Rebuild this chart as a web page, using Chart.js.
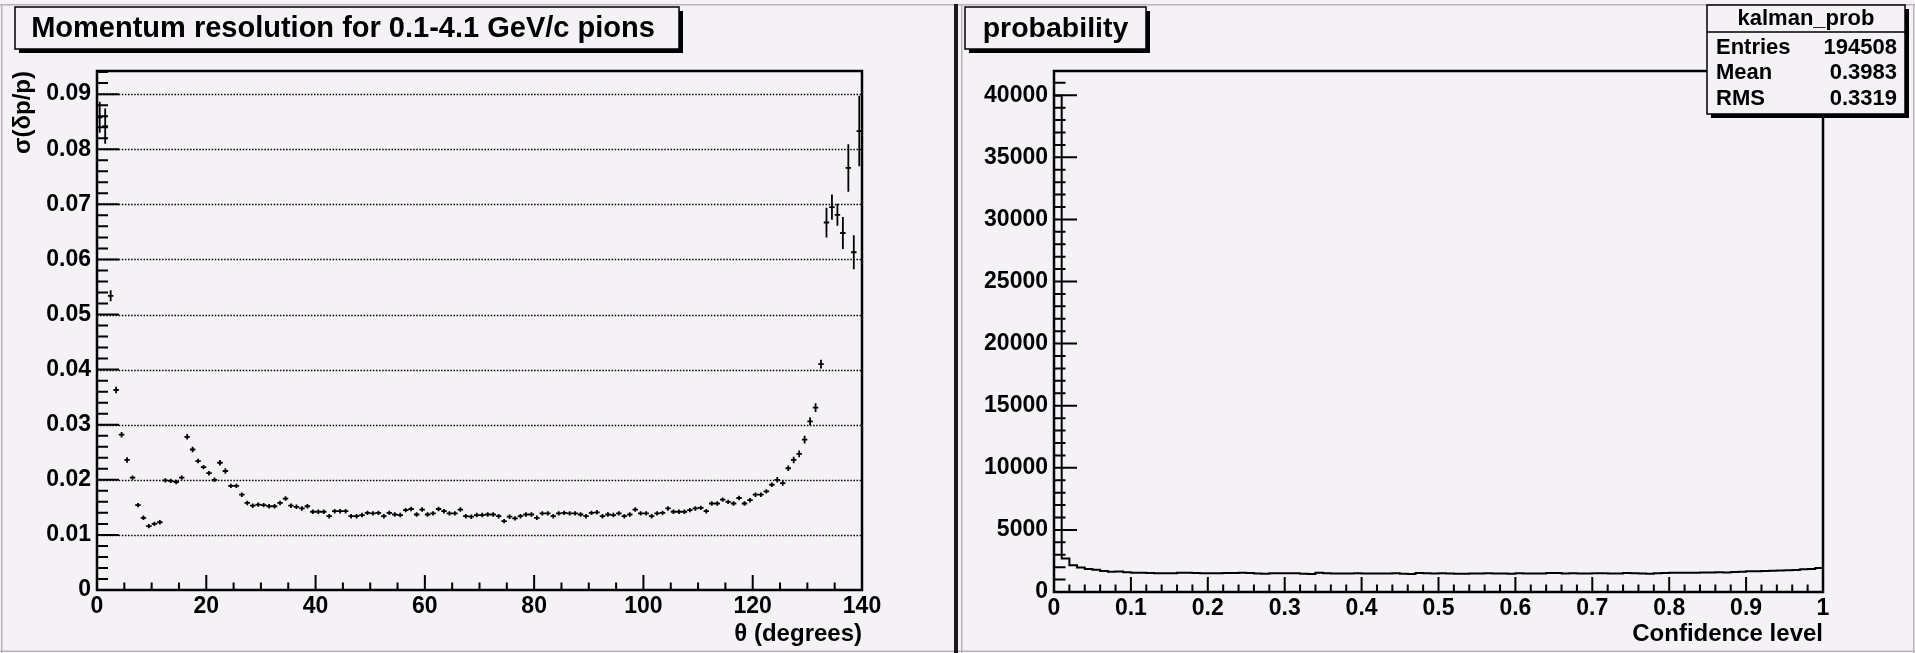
<!DOCTYPE html>
<html>
<head>
<meta charset="utf-8">
<title>Momentum resolution / probability</title>
<script src="https://cdn.jsdelivr.net/npm/chart.js@4.4.1/dist/chart.umd.min.js"></script>
<style>
  html, body { margin: 0; padding: 0; background: #f5f2f5; overflow: hidden; }
  #page { position: relative; width: 1915px; height: 653px; }
  #page canvas { position: absolute; top: 0; }
  #resCanvas { left: 0; }
  #probCanvas { left: 958px; }
</style>
</head>
<body>
<div id="page">
  <canvas id="resCanvas" width="958" height="653"></canvas>
  <canvas id="probCanvas" width="957" height="653"></canvas>
</div>
<script>
// ---- left pad: sigma(dp/p) per 1 degree theta bin, 0..140 deg ----
const thetaRange = [0, 140];
const thetaBinWidth = 1;
const sigmaValues = [
  0.0858, 0.0842, 0.0534, 0.0363, 0.0282, 0.0236, 0.0204, 0.0154, 0.0131, 0.0116,
  0.0120, 0.0123, 0.0199, 0.0198, 0.0196, 0.0204, 0.0278, 0.0255, 0.0234, 0.0223,
  0.0212, 0.0200, 0.0231, 0.0216, 0.0189, 0.0189, 0.0173, 0.0158, 0.0153, 0.0155,
  0.0154, 0.0152, 0.0152, 0.0158, 0.0166, 0.0153, 0.0151, 0.0148, 0.0152, 0.0142,
  0.0142, 0.0142, 0.0134, 0.0143, 0.0143, 0.0143, 0.0134, 0.0134, 0.0136, 0.0140,
  0.0139, 0.0140, 0.0134, 0.0140, 0.0137, 0.0136, 0.0145, 0.0147, 0.0137, 0.0146,
  0.0137, 0.0139, 0.0147, 0.0143, 0.0139, 0.0139, 0.0146, 0.0134, 0.0133, 0.0136,
  0.0136, 0.0137, 0.0137, 0.0134, 0.0125, 0.0133, 0.0130, 0.0134, 0.0137, 0.0137,
  0.0131, 0.0139, 0.0139, 0.0134, 0.0139, 0.0140, 0.0139, 0.0139, 0.0137, 0.0134,
  0.0140, 0.0141, 0.0134, 0.0137, 0.0136, 0.0139, 0.0134, 0.0137, 0.0146, 0.0139,
  0.0139, 0.0134, 0.0139, 0.0140, 0.0148, 0.0142, 0.0142, 0.0142, 0.0145, 0.0148,
  0.0149, 0.0143, 0.0157, 0.0157, 0.0164, 0.0160, 0.0157, 0.0167, 0.0157, 0.0163,
  0.0173, 0.0173, 0.0179, 0.0191, 0.0200, 0.0194, 0.0221, 0.0236, 0.0247, 0.0273,
  0.0306, 0.0331, 0.0410, 0.0667, 0.0695, 0.0681, 0.0648, 0.0766, 0.0613, 0.0833
];
const sigmaErrors = [
  0.0028, 0.0032, 0.0010, 0.0006, 0.0005, 0.0005, 0.0004, 0.0004, 0.0004, 0.0004,
  0.0004, 0.0004, 0.0004, 0.0004, 0.0004, 0.0004, 0.0005, 0.0005, 0.0004, 0.0004,
  0.0004, 0.0004, 0.0005, 0.0005, 0.0004, 0.0004, 0.0004, 0.0004, 0.0004, 0.0004,
  0.0004, 0.0004, 0.0004, 0.0004, 0.0004, 0.0004, 0.0004, 0.0004, 0.0004, 0.0004,
  0.0004, 0.0004, 0.0004, 0.0004, 0.0004, 0.0004, 0.0004, 0.0004, 0.0004, 0.0004,
  0.0004, 0.0004, 0.0004, 0.0004, 0.0004, 0.0004, 0.0004, 0.0004, 0.0004, 0.0004,
  0.0004, 0.0004, 0.0004, 0.0004, 0.0004, 0.0004, 0.0004, 0.0004, 0.0004, 0.0004,
  0.0004, 0.0004, 0.0004, 0.0004, 0.0004, 0.0004, 0.0004, 0.0004, 0.0004, 0.0004,
  0.0004, 0.0004, 0.0004, 0.0004, 0.0004, 0.0004, 0.0004, 0.0004, 0.0004, 0.0004,
  0.0004, 0.0004, 0.0004, 0.0004, 0.0004, 0.0004, 0.0004, 0.0004, 0.0004, 0.0004,
  0.0004, 0.0004, 0.0004, 0.0004, 0.0004, 0.0004, 0.0004, 0.0004, 0.0004, 0.0004,
  0.0004, 0.0004, 0.0004, 0.0004, 0.0004, 0.0004, 0.0004, 0.0004, 0.0004, 0.0004,
  0.0004, 0.0004, 0.0004, 0.0004, 0.0005, 0.0005, 0.0005, 0.0006, 0.0006, 0.0007,
  0.0007, 0.0008, 0.0008, 0.0027, 0.0023, 0.0020, 0.0029, 0.0043, 0.0031, 0.0064
];
const resXTicks = [0, 20, 40, 60, 80, 100, 120, 140];
const resYTicks = [0, 0.01, 0.02, 0.03, 0.04, 0.05, 0.06, 0.07, 0.08, 0.09];

// ---- right pad: kalman_prob histogram, 100 bins on [0,1] ----
const probRange = [0, 1];
const probCounts = [
  39950, 2700, 2160, 1970, 1860, 1800, 1700, 1640, 1650, 1600,
  1560, 1550, 1530, 1500, 1500, 1510, 1560, 1560, 1530, 1510,
  1510, 1500, 1520, 1530, 1560, 1530, 1490, 1470, 1500, 1510,
  1510, 1500, 1460, 1440, 1550, 1500, 1490, 1480, 1490, 1500,
  1490, 1480, 1490, 1480, 1500, 1470, 1440, 1520, 1510, 1480,
  1500, 1480, 1470, 1470, 1490, 1490, 1500, 1490, 1480, 1470,
  1500, 1490, 1480, 1480, 1530, 1520, 1490, 1500, 1490, 1480,
  1500, 1510, 1490, 1480, 1520, 1510, 1480, 1470, 1500, 1530,
  1540, 1550, 1560, 1550, 1580, 1570, 1590, 1580, 1620, 1640,
  1670, 1680, 1700, 1710, 1740, 1750, 1780, 1840, 1860, 1940
];
const probXTicks = [0, 0.1, 0.2, 0.3, 0.4, 0.5, 0.6, 0.7, 0.8, 0.9, 1];
const probYTicks = [0, 5000, 10000, 15000, 20000, 25000, 30000, 35000, 40000];
const statsTitle = 'kalman_prob';
const statsLabels = ['Entries', 'Mean', 'RMS'];
const statsValues = ['194508', '0.3983', '0.3319'];

const BG = '#f5f2f5';
const FONT = '"Liberation Sans", Arial, Helvetica, sans-serif';

function drawTicks(c, scale, area, step, len, horizontal) {
  const n = Math.floor((scale.max - scale.min) / step + 1e-6);
  for (let k = 0; k <= n; k++) {
    const p = scale.getPixelForValue(scale.min + k * step);
    if (horizontal) { c.moveTo(p, area.bottom); c.lineTo(p, area.bottom - len); }
    else { c.moveTo(area.left, p); c.lineTo(area.left + len, p); }
  }
}

function drawShadowBox(c, x0, y0, x1, y1) {
  const sh = 4;
  c.fillStyle = '#000';
  c.fillRect(x0 + sh, y1, x1 - x0, sh);
  c.fillRect(x1, y0 + sh, sh, y1 - y0);
  c.fillStyle = BG;
  c.fillRect(x0, y0, x1 - x0, y1 - y0);
  c.strokeStyle = '#000';
  c.lineWidth = 1.5;
  c.strokeRect(x0, y0, x1 - x0, y1 - y0);
}

// ROOT-like pad: background, dotted y grid, frame, inward ticks, extras
function rootPad(cfg) {
  return {
    id: 'rootPad',
    beforeDraw(chart) {
      const c = chart.ctx;
      c.save();
      c.fillStyle = BG;
      c.fillRect(0, 0, chart.width, chart.height);
      c.restore();
    },
    beforeDatasetsDraw(chart) {
      if (!cfg.grid) return;
      const {ctx: c, chartArea: a, scales: {y}} = chart;
      c.save();
      c.strokeStyle = '#000';
      c.lineWidth = 1.4;
      c.setLineDash([1.5, 1.6]);
      c.beginPath();
      y.ticks.forEach(t => {
        if (t.value <= y.min) return;
        const p = Math.round(y.getPixelForValue(t.value)) + 0.5;
        c.moveTo(a.left, p); c.lineTo(a.right, p);
      });
      c.stroke();
      c.restore();
    },
    afterDatasetsDraw(chart) {
      const {ctx: c, chartArea: a, scales: {x, y}} = chart;
      c.save();
      c.strokeStyle = '#000';
      c.lineWidth = 2;
      c.beginPath();
      drawTicks(c, x, a, cfg.xMajor, cfg.xMajorLen, true);
      drawTicks(c, x, a, cfg.xMinor, cfg.xMajorLen / 2, true);
      drawTicks(c, y, a, cfg.yMajor, cfg.yMajorLen, false);
      drawTicks(c, y, a, cfg.yMinor, cfg.yMajorLen / 2, false);
      c.stroke();
      c.lineWidth = 2.5;
      c.strokeRect(a.left, a.top, a.right - a.left, a.bottom - a.top);
      c.restore();
    },
    afterDraw(chart) {
      const c = chart.ctx;
      c.save();
      cfg.decorate(c, chart);
      c.restore();
    }
  };
}

// vertical error bars + bin-width horizontal bars
const errorBars = {
  id: 'errorBars',
  afterDatasetsDraw(chart) {
    const {ctx: c, scales: {x, y}} = chart;
    const meta = chart.getDatasetMeta(0);
    c.save();
    c.strokeStyle = '#000';
    c.lineWidth = 1.8;
    c.beginPath();
    meta.data.forEach((pt, i) => {
      const xc = thetaRange[0] + (i + 0.5) * thetaBinWidth;
      const xl = x.getPixelForValue(xc - thetaBinWidth / 2);
      const xr = x.getPixelForValue(xc + thetaBinWidth / 2);
      const yt = y.getPixelForValue(sigmaValues[i] + sigmaErrors[i]);
      const yb = y.getPixelForValue(sigmaValues[i] - sigmaErrors[i]);
      c.moveTo(xl, pt.y); c.lineTo(xr, pt.y);
      c.moveTo(pt.x, yt); c.lineTo(pt.x, yb);
    });
    c.stroke();
    c.restore();
  }
};

function tickFont(size) { return {family: FONT, size: size, weight: 'bold'}; }

function baseScales(o) {
  return {
    x: {
      type: 'linear', min: o.xMin, max: o.xMax,
      grid: {display: false, drawTicks: false}, border: {display: false},
      ticks: {autoSkip: false, maxRotation: 0, minRotation: 0,
              padding: 3, color: '#000', font: tickFont(23), callback: o.xFmt},
      afterBuildTicks: s => { s.ticks = o.xTicks.map(v => ({value: v})); },
      title: {display: true, text: o.xTitle, align: 'end', color: '#000', font: tickFont(24),
              padding: {top: 0, bottom: 4}},
      afterFit: s => { s.height = o.bottomH; }
    },
    y: {
      type: 'linear', min: o.yMin, max: o.yMax,
      grid: {display: false, drawTicks: false}, border: {display: false},
      ticks: {autoSkip: false, padding: 6, color: '#000', font: tickFont(23), callback: o.yFmt},
      afterBuildTicks: s => { s.ticks = o.yTicks.map(v => ({value: v})); },
      title: {display: !!o.yTitle, text: o.yTitle || '', align: 'end', color: '#000', font: tickFont(24),
              padding: {top: 9, bottom: 0}},
      afterFit: s => { s.width = o.leftW; }
    }
  };
}

// ---------- left chart ----------
new Chart(document.getElementById('resCanvas'), {
  type: 'scatter',
  data: {
    datasets: [{
      data: sigmaValues.map((v, i) => ({x: thetaRange[0] + (i + 0.5) * thetaBinWidth, y: v})),
      pointRadius: 0,
      showLine: false
    }]
  },
  options: {
    responsive: false, animation: false, events: [],
    layout: {padding: {top: 71, right: 96, bottom: 0, left: 0}},
    plugins: {legend: {display: false}, tooltip: {enabled: false}},
    scales: baseScales({
      xMin: thetaRange[0], xMax: thetaRange[1], xTicks: resXTicks, xTitle: 'θ (degrees)',
      xFmt: v => String(v),
      yMin: 0, yMax: 0.0942, yTicks: resYTicks, yTitle: 'σ(δp/p)',
      yFmt: v => (v === 0 ? '0' : v.toFixed(2)),
      bottomH: 63, leftW: 97
    })
  },
  plugins: [rootPad({
    grid: true, xMajor: 20, xMinor: 5, xMajorLen: 15, yMajor: 0.01, yMinor: 0.002, yMajorLen: 22,
    decorate(c, chart) {
      // pad bevel
      c.fillStyle = '#b8b4b8';
      c.fillRect(0, 4, chart.width, 1.5);
      c.fillRect(1, 4, 1.5, 649);
      c.fillRect(0, 650.5, chart.width, 1.5);
      c.fillStyle = '#1a1a1a';
      c.fillRect(954, 4, 4, 649);
      drawShadowBox(c, 15, 7, 679, 49);
      c.fillStyle = '#000';
      c.font = 'bold 29px ' + FONT;
      c.textAlign = 'center';
      c.textBaseline = 'middle';
      c.fillText('Momentum resolution for 0.1-4.1 GeV/c pions', 343, 29);
    }
  }), errorBars]
});

// ---------- right chart ----------
const histPoints = probCounts.map((v, i) => ({x: probRange[0] + i * (probRange[1] - probRange[0]) / probCounts.length, y: v}));
histPoints.push({x: probRange[1], y: probCounts[probCounts.length - 1]});

new Chart(document.getElementById('probCanvas'), {
  type: 'scatter',
  data: {
    datasets: [{
      data: histPoints,
      showLine: true,
      stepped: true,
      borderColor: '#000',
      borderWidth: 2,
      pointRadius: 0,
      fill: false
    }]
  },
  options: {
    responsive: false, animation: false, events: [],
    layout: {padding: {top: 71, right: 92, bottom: 0, left: 0}},
    plugins: {legend: {display: false}, tooltip: {enabled: false}},
    scales: baseScales({
      xMin: probRange[0], xMax: probRange[1], xTicks: probXTicks, xTitle: 'Confidence level',
      xFmt: v => (v === 0 ? '0' : v === 1 ? '1' : v.toFixed(1)),
      yMin: 0, yMax: 41950, yTicks: probYTicks, yTitle: '',
      yFmt: v => String(v),
      bottomH: 61, leftW: 96
    })
  },
  plugins: [rootPad({
    grid: false, xMajor: 0.1, xMinor: 0.02, xMajorLen: 15, yMajor: 5000, yMinor: 1000, yMajorLen: 23,
    decorate(c, chart) {
      c.fillStyle = '#b8b4b8';
      c.fillRect(0, 4, chart.width, 1.5);
      c.fillRect(3, 4, 1.5, 649);
      c.fillRect(0, 650.5, chart.width, 1.5);
      c.fillRect(chart.width - 2, 4, 1.5, 649);
      drawShadowBox(c, 7, 7, 188, 49);
      c.fillStyle = '#000';
      c.font = 'bold 28.5px ' + FONT;
      c.textAlign = 'center';
      c.textBaseline = 'middle';
      c.fillText('probability', 97.5, 29);
      // statistics box
      const bx0 = 749, by0 = 5, bx1 = 947, by1 = 114;
      drawShadowBox(c, bx0, by0, bx1, by1);
      c.lineWidth = 1.5;
      c.beginPath();
      c.moveTo(bx0, 32); c.lineTo(bx1, 32);
      c.stroke();
      c.fillStyle = '#000';
      c.font = 'bold 22px ' + FONT;
      c.textAlign = 'center';
      c.fillText(statsTitle, (bx0 + bx1) / 2, 19);
      const rowY = [48, 73, 99];
      statsLabels.forEach((lab, i) => {
        c.textAlign = 'left';
        c.fillText(lab, bx0 + 9, rowY[i]);
        c.textAlign = 'right';
        c.fillText(statsValues[i], bx1 - 8, rowY[i]);
      });
    }
  })]
});
</script>
</body>
</html>
